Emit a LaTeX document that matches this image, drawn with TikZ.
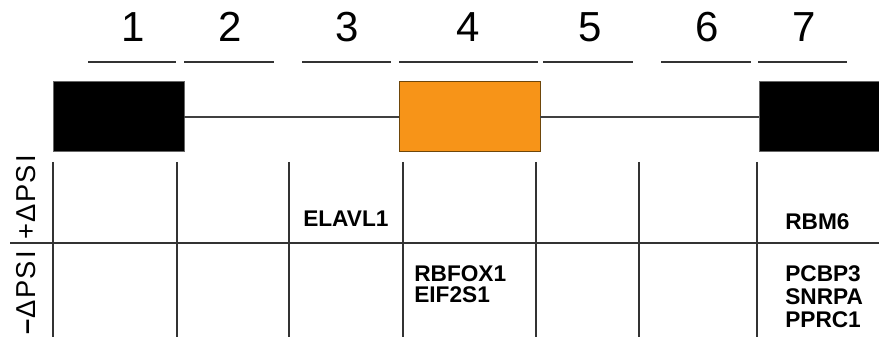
\documentclass[tikz,border=0pt]{standalone}
\usepackage{fontspec}
\setmainfont{Liberation Sans}
\begin{document}
\begin{tikzpicture}[x=0.75pt,y=-0.75pt,
  exon/.style={draw=black!60, line width=0.75pt, inner sep=0pt, outer sep=0pt, minimum height=52.5pt},
  intron/.style={draw=black!75, line width=0.9pt},
  numlbl/.style={inner sep=0pt, anchor=base, font=\fontsize{31.5pt}{36pt}\selectfont},
  bar/.style={draw=black!80, line width=0.8pt},
  grid/.style={draw=black!80, line width=1.1pt},
  gene/.style={inner sep=0pt, anchor=base west, font=\fontsize{17pt}{20pt}\selectfont\bfseries},
  psi/.style={inner sep=0pt, anchor=base, rotate=90, font=\fontsize{20.5pt}{24pt}\selectfont}]
\useasboundingbox (0,0) rectangle (879,338);
% region numbers
\foreach \n/\cx/\a/\b in {1/133/88/176, 2/230/184/274, 3/347/302/391, 4/468/399/538, 5/590/543/633, 6/707/661/751, 7/804/758/847}{
  \node[numlbl] (n\n) at (\cx,42) {\n};
  \coordinate (bl\n) at (\a,62);
  \coordinate (br\n) at (\b,62);
  \draw[bar] (bl\n) -- (br\n);
}
% exons
\node[exon, fill=black, minimum width=98.25pt] (ex1) at (118.5,117) {};
\node[exon, fill={rgb,255:red,247;green,148;blue,24}, draw={rgb,255:red,110;green,70;blue,10}, minimum width=105.75pt] (ex4) at (469.5,117) {};
\node[exon, fill=black, minimum width=90pt] (ex7) at (819,117) {};
\draw[intron] (ex1.east) -- (ex4.west);
\draw[intron] (ex4.east) -- (ex7.west);
% grid
\foreach \i/\x in {1/53, 2/177, 3/289, 4/403, 5/536, 6/639, 7/757}{
  \coordinate (vt\i) at (\x,162);
  \coordinate (vb\i) at (\x,337);
  \draw[grid] (vt\i) -- (vb\i);
}
\coordinate (hl) at (10,243);
\coordinate (hr) at (879,243);
\draw[grid] (hl) -- (hr);
% axis labels
\node[psi] (plus) at (36,197.5) {+\kern1pt\symbol{"0394}\kern1pt P\kern1pt S\kern1.5pt I};
\node[psi] (minus) at (36,293) {\textbf{–}\kern1pt\symbol{"0394}\kern1pt P\kern1pt S\kern1.5pt I};
% gene labels
\node[gene] (elavl1) at (303,227) {ELAVL1};
\node[gene] (rbm6) at (785,230) {RBM6};
\node[gene] (rbfox1) at (414,282) {RBFOX1};
\node[gene] (eif2s1) at (414,303) {EIF2S1};
\node[gene] (pcbp3) at (785,282) {PCBP3};
\node[gene] (snrpa) at (785,305) {SNRPA};
\node[gene] (pprc1) at (785,328) {PPRC1};
\end{tikzpicture}
\end{document}
